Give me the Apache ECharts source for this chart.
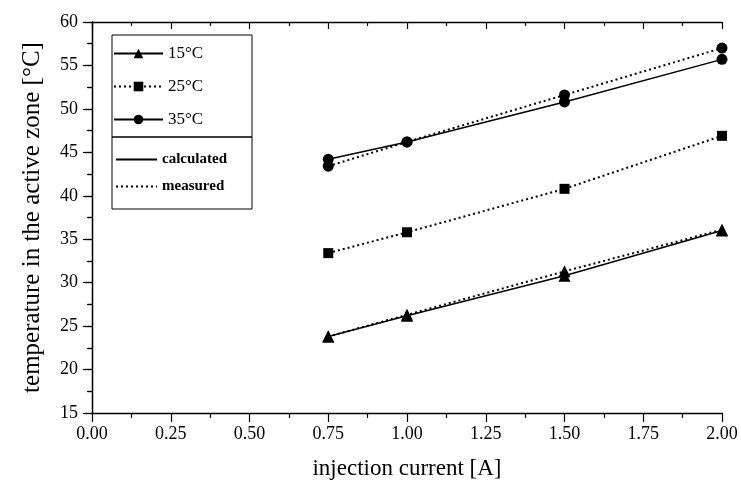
<!DOCTYPE html>
<html>
<head>
<meta charset="utf-8">
<script src="https://cdn.jsdelivr.net/npm/echarts@6/dist/echarts.min.js"></script>
<style>
  html, body { margin: 0; padding: 0; background: #fff; }
  #main { width: 741px; height: 489px; }
</style>
</head>
<body>
<div id="main"></div>
<script>
// injection current [A]
var currents = [0.75, 1.0, 1.5, 2.0];

// temperature in the active zone [°C]
var calc15 = [23.8, 26.2, 30.8, 36.0];
var meas15 = [23.8, 26.3, 31.3, 36.1];
var meas25 = [33.4, 35.8, 40.8, 46.9];
var calc35 = [44.2, 46.2, 50.8, 55.7];
var meas35 = [43.4, 46.2, 51.6, 57.0];

var tempNames = ['15°C', '25°C', '35°C'];
var kindNames = ['calculated', 'measured'];

var FONT = 'Liberation Serif';
var DOTS = [2, 3];

function pairs(ys) {
    return currents.map(function (x, i) { return [x, ys[i]]; });
}

var myChart = echarts.init(document.getElementById('main'));

function lineSeries(name, ys, symbol, size, dotted) {
    return {
        name: name,
        type: 'line',
        data: pairs(ys),
        symbol: symbol,
        symbolSize: size,
        itemStyle: { color: '#000' },
        lineStyle: { color: '#000', width: dotted ? 2 : 1.5, type: dotted ? DOTS : 'solid' },
        z: 3
    };
}

var series = [
    lineSeries('15°C', calc15, 'triangle', 12, false),
    lineSeries('15°C', meas15, 'triangle', 12, true),
    lineSeries('25°C', meas25, 'rect', 10, true),
    lineSeries('35°C', calc35, 'circle', 11, false),
    lineSeries('35°C', meas35, 'circle', 11, true),
    // legend only
    { name: 'calculated', type: 'line', data: [], symbol: 'none', symbolSize: 0,
      itemStyle: { color: '#000' },
      lineStyle: { color: '#000', width: 1.5, type: 'solid' } },
    { name: 'measured', type: 'line', data: [], symbol: 'none', symbolSize: 0,
      itemStyle: { color: '#000' },
      lineStyle: { color: '#000', width: 2, type: DOTS } }
];

// left/bottom: ticks outward; top/right: ticks inward
var tickOut = { show: true, inside: false, length: 9, lineStyle: { color: '#000', width: 1.2 } };
var minorOut = { show: true, splitNumber: 2, length: 5, lineStyle: { color: '#000', width: 1.2 } };
var tickIn = { show: true, inside: true, length: 7, lineStyle: { color: '#000', width: 1.2 } };
var minorIn = { show: true, splitNumber: 2, length: 4, lineStyle: { color: '#000', width: 1.2 } };
var lineBlack = { show: true, lineStyle: { color: '#000', width: 1.3 } };

myChart.setOption({
    backgroundColor: '#fff',
    animation: false,
    grid: { left: 92, right: 19, top: 22, bottom: 76 },
    legend: [
        {
            data: tempNames,
            orient: 'vertical',
            left: 113, top: 45, padding: 0,
            itemWidth: 49, itemHeight: 12, itemGap: 16,
            selectedMode: false,
            textStyle: { fontFamily: FONT, fontSize: 17, color: '#000' }
        },
        {
            data: kindNames.map(function (n) { return { name: n, itemStyle: { opacity: 0 } }; }),
            orient: 'vertical',
            left: 115, top: 152, padding: 0,
            itemWidth: 41, itemHeight: 12, itemGap: 12,
            selectedMode: false,
            textStyle: { fontFamily: FONT, fontSize: 15, fontWeight: 'bold', color: '#000' }
        }
    ],
    graphic: [
        { type: 'rect', shape: { x: 112, y: 35, width: 140, height: 102 },
          style: { fill: 'none', stroke: '#000', lineWidth: 1 } },
        { type: 'rect', shape: { x: 112, y: 137, width: 140, height: 72 },
          style: { fill: 'none', stroke: '#000', lineWidth: 1 } }
    ],
    xAxis: [
        {
            type: 'value', min: 0, max: 2, interval: 0.25,
            name: 'injection current [A]',
            nameLocation: 'middle', nameGap: 44,
            nameTextStyle: { fontFamily: FONT, fontSize: 23, color: '#000' },
            axisLine: lineBlack, axisTick: tickOut, minorTick: minorOut,
            splitLine: { show: false },
            axisLabel: { fontFamily: FONT, fontSize: 18, color: '#000', margin: 12,
                         formatter: function (v) { return v.toFixed(2); } }
        },
        {
            type: 'value', min: 0, max: 2, interval: 0.25, position: 'top',
            axisLine: lineBlack, axisTick: tickIn, minorTick: minorIn,
            splitLine: { show: false }, axisLabel: { show: false }
        }
    ],
    yAxis: [
        {
            type: 'value', min: 15, max: 60, interval: 5,
            name: 'temperature in the active zone [°C]',
            nameLocation: 'middle', nameGap: 47,
            nameTextStyle: { fontFamily: FONT, fontSize: 25, color: '#000' },
            axisLine: lineBlack, axisTick: tickOut, minorTick: minorOut,
            splitLine: { show: false },
            axisLabel: { fontFamily: FONT, fontSize: 18, color: '#000', margin: 14 }
        },
        {
            type: 'value', min: 15, max: 60, interval: 5, position: 'right',
            axisLine: lineBlack, axisTick: tickIn, minorTick: minorIn,
            splitLine: { show: false }, axisLabel: { show: false }
        }
    ],
    series: series
});
</script>
</body>
</html>
